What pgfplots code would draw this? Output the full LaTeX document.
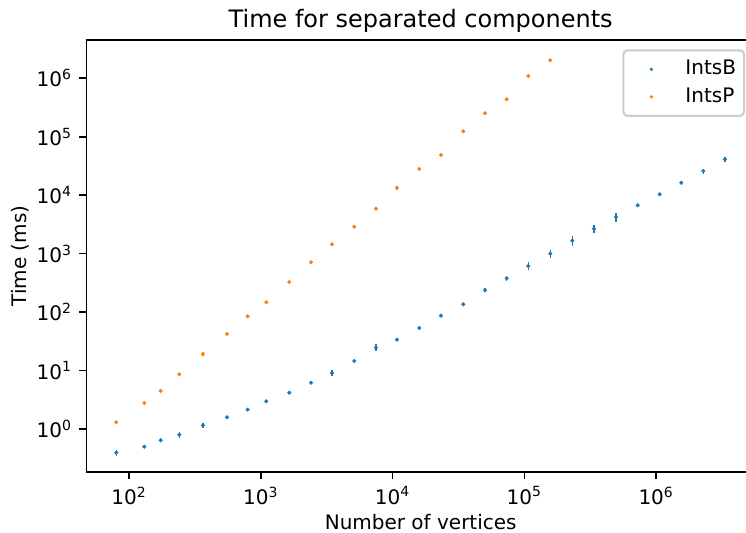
\documentclass[border=0pt]{standalone}
\usepackage{pgfplots}
\pgfplotsset{compat=1.18}
\usepackage{pgfplotstable}
\usepackage{fontspec}
\setmainfont{DejaVu Sans}
\definecolor{tabblue}{HTML}{1F77B4}
\definecolor{taborange}{HTML}{FF7F0E}

\pgfplotstableread{
x y e
80.1 0.393 0.112
130.7 0.498 0.061
174 0.641 0.082
240.8 0.799 0.112
364 1.157 0.112
554 1.586 0.040
795 2.139 0.061
1101 2.978 0.040
1645 4.18 0.061
2404 6.19 0.040
3467 9.08 0.126
5118 14.57 0.082
7478 24.6 0.139
10790 33.7 0.061
15944 53.4 0.061
23282 86.8 0.040
34394 135.9 0.040
50235 236 0.082
73398 378 0.112
107056 614 0.157
157215 998 0.171
230935 1666 0.185
337300 2674 0.157
495500 4238 0.171
723800 6716 0.082
1063000 10353 0.069
1549000 16360 0.082
2277000 25950 0.095
3327000 41120 0.112
}\intsB

\pgfplotstableread{
x y e
80.1 1.302 0.04
130.7 2.785 0.04
174 4.47 0.04
240.8 8.63 0.04
364 18.97 0.082
554 42.2 0.04
795 84.7 0.04
1101 147 0.04
1645 327 0.061
2404 711 0.04
3467 1445 0.04
5118 2891 0.04
7478 5871 0.04
10790 13430 0.082
15944 28060 0.04
23282 48720 0.04
34394 123900 0.05
50235 251800 0.04
73398 437400 0.04
107056 1094000 0.04
157215 2033000 0.04
}\intsP

\begin{document}
\begin{tikzpicture}
\begin{axis}[
  name=ax,
  scale only axis,
  width=334.3pt, height=216.15pt,
  xmode=log, ymode=log,
  log basis x=10, log basis y=10,
  xmin=47.52, xmax=5.62e6,
  ymin=0.1816, ymax=4.52e6,
  xtickten={2,...,6},
  ytickten={0,...,6},
  xticklabel={10\textsuperscript{\pgfmathparse{int(round(\tick))}\pgfmathresult}},
  yticklabel={10\textsuperscript{\pgfmathparse{int(round(\tick))}\pgfmathresult}},
  tick pos=left,
  tick align=outside,
  major tick length=3.5pt,
  minor tick length=2pt,
  every major tick/.style={line width=0.8pt, black},
  every minor tick/.style={line width=0.6pt, black},
  axis line style={line width=0.8pt},
  ticklabel style={font=\fontsize{10}{12}\selectfont},
  xticklabel style={inner sep=0pt, yshift=-3.5pt},
  yticklabel style={inner sep=0pt, xshift=-3.5pt},
  label style={font=\fontsize{10}{12}\selectfont},
  xlabel={Number of vertices},
  xlabel style={yshift=-1.5pt},
  ylabel={Time (ms)},
  title={Time for separated components},
  title style={font=\fontsize{12}{14}\selectfont, anchor=base},
  legend style={at={(1,1)}, anchor=north east, xshift=-5pt, yshift=-4.65pt,
    draw=black!20, line width=1pt, rounded corners=2pt,
    font=\fontsize{10}{12}\selectfont,
    inner xsep=2pt, inner ysep=2.75pt,
    nodes={inner xsep=2pt, inner ysep=2pt, text height=7.5pt, text depth=2pt},
    row sep=0.25pt},
  legend cell align=left,
  error bars/y dir=both,
  error bars/y explicit relative,
  error bars/error mark=none,
]
\addplot[only marks, mark=*, mark size=0.8pt, color=tabblue, forget plot,
  error bars/error bar style={line width=0.6pt, tabblue}]
  table[x=x, y=y, y error=e] {\intsB};
\addplot[only marks, mark=*, mark size=0.8pt, color=taborange, forget plot,
  error bars/error bar style={line width=0.6pt, taborange}]
  table[x=x, y=y, y error=e] {\intsP};
\addlegendimage{legend image code/.code={\path[draw=none] (0pt,0pt) -- (27pt,0pt); \fill[tabblue, draw=none] (12pt,0pt) circle (0.9pt);}}
\addlegendentry{IntsB}
\addlegendimage{legend image code/.code={\path[draw=none] (0pt,0pt) -- (27pt,0pt); \fill[taborange, draw=none] (12pt,0pt) circle (0.9pt);}}
\addlegendentry{IntsP}
\end{axis}
\pgfresetboundingbox
\path[use as bounding box] ([xshift=-43.2pt, yshift=-30.35pt]ax.south west) rectangle ([xshift=329.8pt, yshift=20pt]ax.north west);
\end{tikzpicture}
\end{document}
